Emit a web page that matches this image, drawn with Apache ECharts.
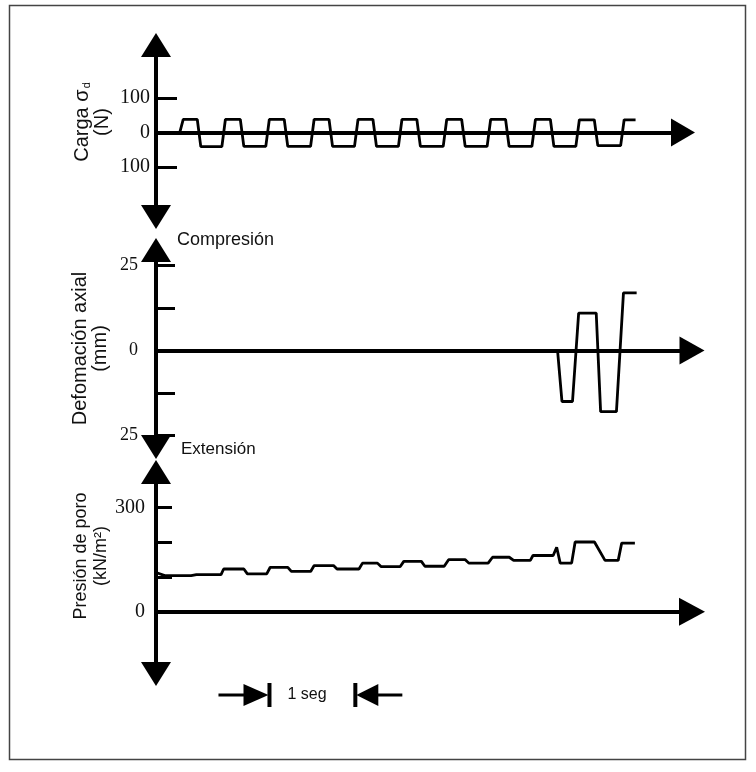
<!DOCTYPE html>
<html><head><meta charset="utf-8">
<script src="https://cdn.jsdelivr.net/npm/echarts@6/dist/echarts.min.js"></script>
<style>html,body{margin:0;padding:0;background:#fff}#c{width:756px;height:772px}</style>
</head><body><div id="c"></div>
<script>
// ---- Carga σd (N) vs tiempo (s)
const loadT = [0, 0.27, 0.31, 0.47, 0.51, 0.75, 0.79, 0.96, 1.00, 1.25, 1.29, 1.46, 1.50, 1.76, 1.80, 1.97, 2.01, 2.26, 2.30, 2.47, 2.51, 2.76, 2.80, 2.97, 3.01, 3.27, 3.31, 3.48, 3.52, 3.77, 3.81, 3.98, 4.02, 4.28, 4.32, 4.49, 4.53, 4.78, 4.82, 4.99, 5.03, 5.29, 5.33, 5.46];
const loadN = [0, 0, 38, 38, -41, -41, 38, 38, -40, -40, 38, 38, -40, -40, 38, 38, -40, -40, 38, 38, -40, -40, 38, 38, -40, -40, 38, 38, -40, -40, 38, 38, -40, -40, 38, 38, -40, -40, 37, 37, -38, -38, 37, 37];
// ---- Deformación axial (mm) vs tiempo (s)
const defT = [0, 4.57, 4.62, 4.74, 4.81, 5.01, 5.06, 5.24, 5.32, 5.47];
const defMm = [0, 0, -15, -15, 11, 11, -18, -18, 17, 17];
// ---- Presión de poro (kN/m2) vs tiempo (s)
const poreT = [0, 0.10, 0.40, 0.46, 0.74, 0.77, 1.00, 1.04, 1.26, 1.30, 1.50, 1.54, 1.76, 1.80, 2.02, 2.06, 2.31, 2.35, 2.52, 2.56, 2.78, 2.82, 3.02, 3.06, 3.28, 3.33, 3.52, 3.56, 3.78, 3.83, 4.02, 4.07, 4.26, 4.29, 4.52, 4.56, 4.60, 4.73, 4.77, 4.99, 5.11, 5.26, 5.30, 5.45];
const poreKpa = [113, 104, 104, 107, 107, 123, 123, 109, 109, 128, 128, 116, 116, 133, 133, 123, 123, 140, 140, 130, 130, 145, 145, 131, 131, 150, 150, 140, 140, 157, 157, 148, 148, 162, 162, 186, 140, 140, 201, 201, 148, 148, 198, 198];
// ---- ticks / labels
const loadTicks = [-100, 0, 100];
const loadLabels = [-100, 0, 100];
const defTicks = [-25, -12.5, 12.5, 25];
const defLabels = [-25, 0, 25];
const poreTicks = [100, 200, 300];
const poreLabels = [0, 300];
const scaleBarT = [1.28, 2.28]; // 1 seg

const SANS = 'Liberation Sans, Arial, sans-serif';
const SERIF = 'Liberation Serif, Times New Roman, serif';
const chart = echarts.init(document.getElementById('c'), null, {renderer: 'canvas'});
const pairs = (t, v) => t.map((x, i) => [x, v[i]]);

function xAx(gi, max, arrow) {
  return {type: 'value', gridIndex: gi, min: 0, max: max,
    axisLine: {show: true, onZero: true, symbol: ['none', 'triangle'], symbolSize: arrow, lineStyle: {color: '#000', width: 4}},
    axisTick: {show: false}, axisLabel: {show: false}, splitLine: {show: false}};
}
function yAx(gi, min, max, ticks, labels, name, o) {
  return {type: 'value', gridIndex: gi, min: min, max: max,
    name: name, nameLocation: 'middle', nameRotate: 90, nameGap: o.gap, nameMoveOverlap: false,
    nameTextStyle: {fontFamily: SANS, fontSize: o.nfs, color: '#111', lineHeight: 20, align: 'center',
      padding: [0, 0, 0, o.pad], rich: {sub: {fontFamily: SANS, fontSize: 11, color: '#111', verticalAlign: 'bottom', padding: [0, 0, 0, 1]}}},
    axisLine: {show: true, onZero: false, symbol: ['triangle', 'triangle'], symbolSize: [30, 24], lineStyle: {color: '#000', width: 4}},
    axisTick: {show: true, inside: true, length: o.tick, customValues: ticks, lineStyle: {color: '#000', width: 3}},
    axisLabel: {show: true, customValues: labels, formatter: v => String(Math.abs(v)), fontFamily: SERIF,
      fontSize: o.fs, color: '#111', margin: o.margin},
    splitLine: {show: false}};
}

const option = {
  animation: false,
  backgroundColor: '#fff',
  grid: [
    {left: 156, right: 73, top: 45, height: 172, outerBoundsMode: 'none'},
    {left: 156, right: 64, top: 250, height: 197, outerBoundsMode: 'none'},
    {left: 156, right: 64, top: 472, height: 202, outerBoundsMode: 'none'}
  ],
  xAxis: [xAx(0, 6.0, [28, 24]), xAx(1, 6.1, [28, 25]), xAx(2, 6.1, [28, 26])],
  yAxis: [
    yAx(0, -245, 254, loadTicks, loadLabels, 'Carga σ{sub|d}\n(N)', {gap: 44, pad: 18, tick: 21, fs: 20, nfs: 20, margin: 6}),
    yAx(1, -28.4, 29.6, defTicks, defLabels, 'Defomación axial\n(mm)', {gap: 46, pad: 0, tick: 19, fs: 18, nfs: 20, margin: 18}),
    yAx(2, -180, 403, poreTicks, poreLabels, 'Presión de poro\n(kN/m²)', {gap: 45, pad: 34, tick: 16, fs: 20, nfs: 18, margin: 11})
  ],
  series: [
    {type: 'line', xAxisIndex: 0, yAxisIndex: 0, data: pairs(loadT, loadN), showSymbol: false, silent: true, lineStyle: {color: '#000', width: 2.8}, z: 3},
    {type: 'line', xAxisIndex: 1, yAxisIndex: 1, data: pairs(defT, defMm), showSymbol: false, silent: true, lineStyle: {color: '#000', width: 2.8}, z: 3},
    {type: 'line', xAxisIndex: 2, yAxisIndex: 2, data: pairs(poreT, poreKpa), showSymbol: false, silent: true, lineStyle: {color: '#000', width: 2.8}, z: 3}
  ]
};
chart.setOption(option);

const xa = chart.convertToPixel({xAxisIndex: 2}, scaleBarT[0]);
const xb = chart.convertToPixel({xAxisIndex: 2}, scaleBarT[1]);
const yb = 695;
chart.setOption({
  graphic: [
    {type: 'rect', shape: {x: 9.5, y: 5.5, width: 736, height: 754}, style: {fill: 'none', stroke: '#444', lineWidth: 1.5}, silent: true},
    {type: 'text', left: 177, top: 231, style: {text: 'Compresión', font: '18px ' + SANS, fill: '#111'}, silent: true},
    {type: 'text', left: 181, top: 441, style: {text: 'Extensión', font: '17px ' + SANS, fill: '#111'}, silent: true},
    {type: 'line', shape: {x1: xa - 50, y1: yb, x2: xa - 20, y2: yb}, style: {stroke: '#000', lineWidth: 3}, silent: true},
    {type: 'polygon', shape: {points: [[xa - 25, yb - 11], [xa, yb], [xa - 25, yb + 11]]}, style: {fill: '#000'}, silent: true},
    {type: 'line', shape: {x1: xa + 1, y1: yb - 12, x2: xa + 1, y2: yb + 12}, style: {stroke: '#000', lineWidth: 4}, silent: true},
    {type: 'text', x: xa + 19, y: yb, style: {text: '1 seg', font: '16px ' + SANS, fill: '#111', verticalAlign: 'middle'}, silent: true},
    {type: 'line', shape: {x1: xb - 1, y1: yb - 12, x2: xb - 1, y2: yb + 12}, style: {stroke: '#000', lineWidth: 4}, silent: true},
    {type: 'polygon', shape: {points: [[xb + 22, yb - 11], [xb, yb], [xb + 22, yb + 11]]}, style: {fill: '#000'}, silent: true},
    {type: 'line', shape: {x1: xb + 18, y1: yb, x2: xb + 46, y2: yb}, style: {stroke: '#000', lineWidth: 3}, silent: true}
  ]
});
</script>
</body></html>
